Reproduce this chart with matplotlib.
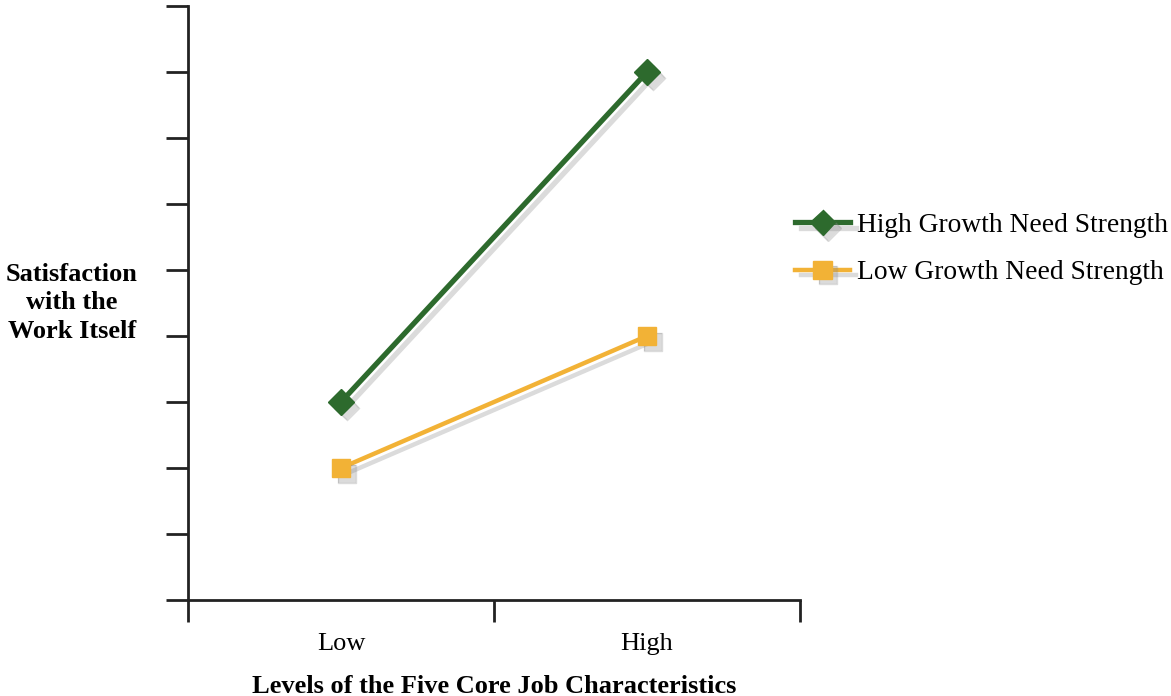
import matplotlib
matplotlib.use("Agg")
import matplotlib.pyplot as plt
import matplotlib.patheffects as pe

# data
levels = ["Low", "High"]
high_gns = [3, 8]
low_gns = [2, 4]
series_names = ["High Growth Need Strength", "Low Growth Need Strength"]

plt.rcParams['font.family'] = ['Liberation Serif', 'DejaVu Serif']

fig = plt.figure(figsize=(11.71, 6.96), dpi=100)
ax = fig.add_axes([188/1171, 1 - 600/696, 612/1171, 594/696])

xpos = [0.5, 1.5]
shadow = [pe.SimpleLineShadow(offset=(4, -4), shadow_color='#888888', alpha=0.3),
          pe.SimplePatchShadow(offset=(4, -4), shadow_rgbFace='#888888', alpha=0.3),
          pe.Normal()]

ax.plot(xpos, high_gns, color='#2d6a2d', lw=3.8, marker='D', ms=13,
        label=series_names[0], path_effects=shadow)
ax.plot(xpos, low_gns, color='#f2b236', lw=3.2, marker='s', ms=13,
        label=series_names[1], path_effects=shadow)

ax.set_xlim(0, 2)
ax.set_ylim(0, 9)
ax.set_yticks(range(0, 10))
ax.set_yticklabels([])
ax.set_xticks([0, 1, 2])
ax.set_xticklabels([])
ax.set_xticks(xpos, minor=True)
ax.set_xticklabels(levels, minor=True, fontsize=19)
ax.tick_params(axis='x', which='minor', length=0, pad=24)
ax.tick_params(axis='both', which='major', length=16, width=2, color='#222222')
ax.tick_params(axis='y', direction='out')
ax.tick_params(axis='x', direction='out')

for s in ['top', 'right']:
    ax.spines[s].set_visible(False)
for s in ['left', 'bottom']:
    ax.spines[s].set_linewidth(2)
    ax.spines[s].set_color('#222222')
ax.spines['left'].set_clip_on(False)

ax.set_xlabel("Levels of the Five Core Job Characteristics", fontsize=19,
              fontweight='bold', labelpad=14)

fig.text(72/1171, 1 - 303/696, "Satisfaction\nwith the\nWork Itself", ha='center',
         va='center', fontsize=19, fontweight='bold', linespacing=1.3)

ax.legend(loc='center left', bbox_to_anchor=(795/1171, 1 - 249/696),
          bbox_transform=fig.transFigure, frameon=False, fontsize=19.8,
          handlelength=2.0, handletextpad=0.25, labelspacing=0.8, borderpad=0,
          borderaxespad=0)

fig.savefig("out.png", dpi=100)
